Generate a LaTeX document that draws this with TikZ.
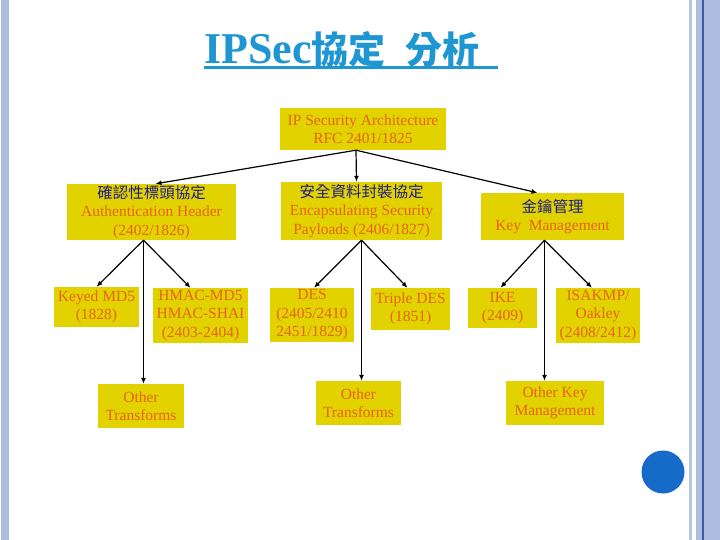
\documentclass[tikz,border=0pt]{standalone}
\usepackage{fontspec}
\setmainfont{Liberation Serif}
\newfontfamily\cjk{Noto Sans CJK TC}
\usetikzlibrary{arrows.meta}

\definecolor{giallo}{RGB}{225,210,0}
\definecolor{arancio}{RGB}{232,100,24}
\definecolor{blunotte}{RGB}{30,30,135}
\definecolor{azzurro}{RGB}{30,150,210}
\definecolor{cerchio}{RGB}{22,106,200}
\definecolor{bordo}{RGB}{174,188,224}
\definecolor{bordochiaro}{RGB}{184,200,228}
\definecolor{bordoscuro}{RGB}{52,96,168}

\begin{document}
\begin{tikzpicture}[x=1pt,y=-1pt,
    font=\fontsize{15.5}{18.5}\selectfont,
    casella/.style={fill=giallo,text=arancio,align=center,inner sep=0pt},
    freccia/.style={line width=1.2pt,-{Latex[length=6pt,width=5pt]}},
    asse/.style={line width=1.8pt,-{Latex[length=6pt,width=5pt]}}]

  \useasboundingbox (0,0) rectangle (720,540);

  % --- bordi della pagina ---
  \fill[bordo] (1,0) rectangle (9,540);
  \fill[bordochiaro] (689,0) rectangle (692,540);
  \fill[bordo] (696,0) rectangle (720,540);
  \fill[bordoscuro] (702,0) rectangle (703.5,540);
  \fill[cerchio] (663,472) circle (21.5);

  % --- titolo ---
  \node[anchor=base west,inner sep=0pt,text=azzurro,
        font=\fontsize{44}{44}\selectfont\bfseries] (titolo) at (204,64)
        {IPSec{\cjk\fontsize{37}{37}\selectfont 協定}\hspace{20pt}{\cjk\fontsize{37}{37}\selectfont 分析}};
  \draw[azzurro,line width=3pt] ([yshift=-4pt]titolo.base west) -- ++(294,0);

  % --- radice ---
  \node[casella,minimum width=166pt,minimum height=42pt] (radice) at (363,129)
        {IP Security Architecture\\RFC 2401/1825};

  % --- i tre protocolli ---
  \node[casella,minimum width=169pt,minimum height=56pt] (ah) at (151.5,212)
        {{\cjk\color{blunotte}確認性標頭協定}\\Authentication Header\\(2402/1826)};
  \node[casella,minimum width=161pt,minimum height=58pt] (esp) at (361.5,211)
        {{\cjk\color{blunotte}安全資料封裝協定}\\Encapsulating Security\\Payloads (2406/1827)};
  \node[casella,minimum width=143pt,minimum height=47pt] (km) at (552.5,216.5)
        {{\cjk\color{blunotte}金鑰管理}\\Key\ \ Management};

  % --- le foglie ---
  \node[casella,minimum width=85pt,minimum height=40pt] (keyed) at (96.5,307)
        {Keyed MD5\\(1828)};
  \node[casella,minimum width=95pt,minimum height=55pt] (hmac) at (200.5,315.5)
        {HMAC-MD5\\HMAC-SHAI\\(2403-2404)};
  \node[casella,minimum width=84pt,minimum height=54pt] (des) at (312,315)
        {DES\\(2405/2410\\2451/1829)};
  \node[casella,minimum width=79pt,minimum height=42pt] (tdes) at (410.5,309)
        {Triple DES\\(1851)};
  \node[casella,minimum width=69pt,minimum height=40pt] (ike) at (502.5,308)
        {IKE\\(2409)};
  \node[casella,minimum width=84pt,minimum height=55pt] (isakmp) at (598,315.5)
        {ISAKMP/\\Oakley\\(2408/2412)};
  \node[casella,minimum width=86pt,minimum height=44pt] (altriah) at (141,406)
        {Other\\Transforms};
  \node[casella,minimum width=85pt,minimum height=44pt] (altriesp) at (358.5,403)
        {Other\\Transforms};
  \node[casella,minimum width=98pt,minimum height=44pt] (altrikm) at (555,403)
        {Other Key\\Management};

  % --- frecce dalla radice ---
  \draw[freccia] ([xshift=-7pt]radice.south) -- ([xshift=4pt]ah.north);
  \draw[freccia] ([xshift=-7pt]radice.south) -- ([xshift=-5pt]esp.north);
  \draw[freccia] ([xshift=-7pt]radice.south) -- ([xshift=-15pt]km.north);

  % --- frecce verso le foglie ---
  \draw[freccia] ([xshift=-8pt]ah.south) -- (keyed.north);
  \draw[freccia] ([xshift=-8pt]ah.south) -- ([xshift=-10pt]hmac.north);
  \draw[asse] ([xshift=-8pt]ah.south) -- ([xshift=-8pt]ah.south |- altriah.north);

  \draw[freccia] (esp.south) -- ([xshift=2pt]des.north);
  \draw[freccia] (esp.south) -- ([xshift=-3pt]tdes.north);
  \draw[asse] (esp.south) -- (esp.south |- altriesp.north);

  \draw[freccia] ([xshift=-8pt]km.south) -- ([xshift=-2pt]ike.north);
  \draw[freccia] ([xshift=-8pt]km.south) -- ([xshift=-6pt]isakmp.north);
  \draw[asse] ([xshift=-8pt]km.south) -- ([xshift=-8pt]km.south |- altrikm.north);

\end{tikzpicture}
\end{document}
